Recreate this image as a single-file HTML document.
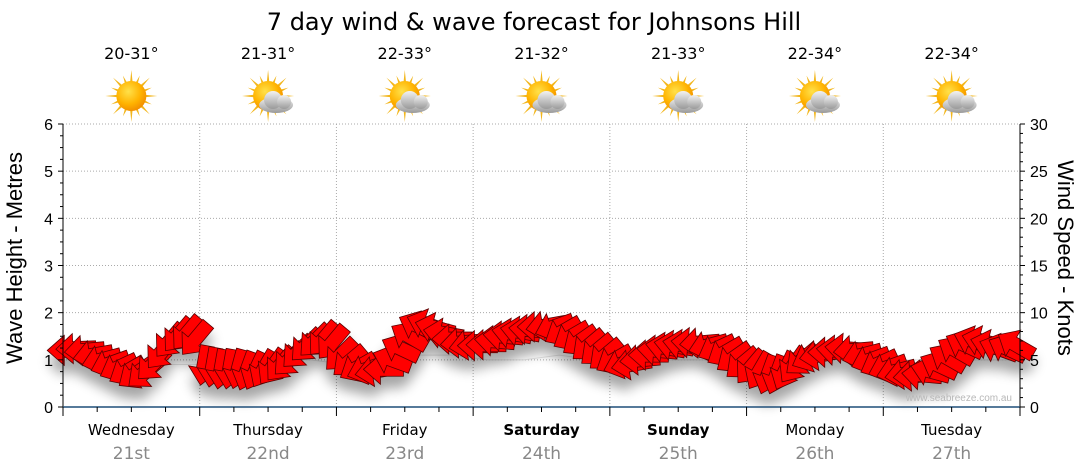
<!DOCTYPE html>
<html><head><meta charset="utf-8"><style>
body{margin:0;background:#fff;}
svg{display:block;}
</style></head><body>
<svg id="chart" width="1080" height="475" viewBox="0 0 1080 475" xmlns="http://www.w3.org/2000/svg">
<defs>
<radialGradient id="sunG" cx="0.4" cy="0.35" r="0.7"><stop offset="0" stop-color="#ffe14a"/><stop offset="0.6" stop-color="#ffb300"/><stop offset="1" stop-color="#f08a00"/></radialGradient>
<linearGradient id="cloudG" x1="0" y1="0" x2="0" y2="1"><stop offset="0" stop-color="#f2f2f2"/><stop offset="1" stop-color="#9a9a9a"/></linearGradient>
<filter id="shadow" x="-20%" y="-50%" width="140%" height="200%"><feGaussianBlur stdDeviation="6"/></filter>
</defs>
<text x="534" y="30" text-anchor="middle" font-family="DejaVu Sans, sans-serif" font-size="24" fill="#000">7 day wind &amp; wave forecast for Johnsons Hill</text>
<g id="grid"></g>
<g id="icons"></g>
<g id="wave"></g>
<g id="arrowShadow" filter="url(#shadow)" opacity="0.35"></g>
<g id="arrows"></g>
<g id="axes"></g>
<text x="0" y="0" transform="translate(22,258) rotate(-90)" text-anchor="middle" font-family="Liberation Sans, sans-serif" font-size="22">Wave Height - Metres</text>
<text x="0" y="0" transform="translate(1058,258) rotate(90)" text-anchor="middle" font-family="Liberation Sans, sans-serif" font-size="22">Wind Speed - Knots</text>
<text x="1012" y="401" text-anchor="end" font-family="Liberation Sans, sans-serif" font-size="10" fill="#b8b8b8">www.seabreeze.com.au</text>
</svg>
<script>
const days = ["Wednesday","Thursday","Friday","Saturday","Sunday","Monday","Tuesday"];
const dates = ["21st","22nd","23rd","24th","25th","26th","27th"];
const boldDays = [false,false,false,true,true,false,false];
const temps = ["20-31°","21-31°","22-33°","21-32°","21-33°","22-34°","22-34°"];
const icons = ["sun","partly","partly","partly","partly","partly","partly"];
const waveTicks = [0,1,2,3,4,5,6];
const windTicks = [0,5,10,15,20,25,30];
const windSpeed = [
6.0,6.2,6.0,5.5,5.0,4.6,4.2,3.8,3.5,3.6,4.5,5.8,7.0,7.6,7.8,7.2,
4.4,4.2,4.0,4.0,4.0,3.8,3.8,4.0,4.2,4.5,5.0,5.8,6.5,7.0,7.2,6.8,
5.5,4.8,4.2,4.0,3.8,4.0,5.0,6.2,7.5,8.6,8.8,8.4,7.8,7.2,6.8,6.6,
6.5,6.6,7.0,7.5,7.8,8.0,8.2,8.5,8.6,8.5,8.0,7.5,7.0,6.5,6.0,5.5,
5.0,4.6,4.5,5.0,5.5,6.0,6.3,6.5,6.6,6.8,6.8,6.5,6.2,5.8,5.2,4.6,
4.2,3.8,3.4,3.4,3.8,4.4,5.0,5.3,5.5,5.8,6.0,6.2,6.0,5.5,5.0,4.6,
4.2,3.8,3.5,3.3,3.4,3.8,4.4,5.2,6.0,6.6,7.0,7.0,6.6,6.2,6.2,6.6];
const windDir = [
180,178,175,170,165,160,155,150,145,140,135,130,130,130,130,130,
100,100,100,100,105,110,115,120,125,130,135,135,135,135,130,130,
135,140,150,160,170,180,200,205,210,205,200,195,190,180,175,170,
180,180,185,185,190,190,185,180,170,160,150,150,145,140,140,140,
150,160,170,175,180,185,190,190,190,185,175,165,155,150,145,140,
130,120,110,110,115,125,140,155,170,180,185,185,175,165,160,155,
160,165,170,175,185,195,205,210,210,205,200,195,195,200,205,210];
const waveHeight = [1.2,1.1,1.0,0.9,0.9,1.0,1.0,1.0,0.9,1.0,1.1,1.1,1.0,1.0,1.1,1.0,1.0,1.0,1.0,1.0,1.0,1.1,1.0,1.0,1.0,1.0,1.0,1.0];

const NS="http://www.w3.org/2000/svg";
const X0=63, X1=1020, Y0=407, Y6=124;
const xDay = d => X0 + d*(X1-X0)/7;
const yWave = m => Y0 - m*(Y0-Y6)/6;
const yWind = k => Y0 - k*(Y0-Y6)/30;
function mk(tag, attrs, parent){const e=document.createElementNS(NS,tag);for(const k in attrs)e.setAttribute(k,attrs[k]);parent.appendChild(e);return e;}
const grid=document.getElementById('grid'), axes=document.getElementById('axes'), iconsG=document.getElementById('icons');

for(let i=1;i<=6;i++){
  const g=mk('line',{x1:X0,x2:X1,y1:yWave(i),y2:yWave(i),stroke:'#aaa','stroke-dasharray':'1,2'},grid);
  
  
}
for(let d=1;d<7;d++){
  const g=mk('line',{x1:xDay(d),x2:xDay(d),y1:Y6,y2:Y0,stroke:'#aaa','stroke-dasharray':'1,2'},grid);
  
  
}
mk('line',{x1:X0,x2:X0,y1:Y6,y2:Y0+8,stroke:'#000'},axes);
mk('line',{x1:X1,x2:X1,y1:Y6,y2:Y0,stroke:'#000'},axes);
mk('line',{x1:X0,x2:X1,y1:Y0,y2:Y0,stroke:'#1f4e79','stroke-width':1.5},axes);
for(let i=0;i<=24;i++){const y=yWave(i/4);mk('line',{x1:X0-(i%4==0?5:3),x2:X0,y1:y,y2:y,stroke:'#000'},axes);}
for(let i=0;i<=30;i++){const y=yWind(i);mk('line',{x1:X1,x2:X1+(i%5==0?5:3),y1:y,y2:y,stroke:'#000'},axes);}
waveTicks.forEach(v=>{
  const t=mk('text',{x:X0-10,y:yWave(v)+6,'text-anchor':'end','font-family':'Liberation Sans, sans-serif','font-size':16},axes);t.textContent=v;
  
  
});
windTicks.forEach(v=>{
  const t=mk('text',{x:X1+10,y:yWind(v)+6,'text-anchor':'start','font-family':'Liberation Sans, sans-serif','font-size':16},axes);t.textContent=v;
  
  
});
for(let i=0;i<=28;i++){const x=X0+i*(X1-X0)/28;mk('line',{x1:x,x2:x,y1:Y0,y2:Y0+(i%4==0?9:5),stroke:'#000'},axes);}
days.forEach((d,i)=>{
  const cx=(xDay(i)+xDay(i+1))/2;
  const t=mk('text',{x:cx,y:435,'text-anchor':'middle','font-family':'DejaVu Sans, sans-serif','font-size':15,'font-weight':boldDays[i]?'bold':'normal'},axes);t.textContent=d;
  
  
  const t2=mk('text',{x:cx,y:459,'text-anchor':'middle','font-family':'DejaVu Sans, sans-serif','font-size':17,fill:'#888'},axes);t2.textContent=dates[i];
  
  
  const t3=mk('text',{x:cx,y:59,'text-anchor':'middle','font-family':'DejaVu Sans, sans-serif','font-size':16},iconsG);t3.textContent=temps[i];
  
  
  const g=mk('g',{transform:`translate(${cx},96)`},iconsG);
  
  
  for(let r=0;r<16;r++){const a=r*Math.PI/8, L=(r%2?22:26);
    mk('polygon',{points:`${Math.cos(a-0.12)*12},${Math.sin(a-0.12)*12} ${Math.cos(a)*L},${Math.sin(a)*L} ${Math.cos(a+0.12)*12},${Math.sin(a+0.12)*12}`,fill:'#f2b61c'},g);}
  mk('circle',{cx:0,cy:0,r:15,fill:'url(#sunG)'},g);
  if(icons[i]==='partly'){
    const c=mk('g',{transform:'translate(8,5)'},g);
    mk('ellipse',{cx:0,cy:4,rx:17,ry:8,fill:'url(#cloudG)'},c);
    mk('circle',{cx:-3,cy:-1,r:9,fill:'url(#cloudG)'},c);
    mk('circle',{cx:8,cy:1,r:7,fill:'url(#cloudG)'},c);
  }
});
const n=waveHeight.length;
let wp=waveHeight.map((v,i)=>`${X0+i*(X1-X0)/(n-1)},${yWave(v)}`).join(' ');
const wl=mk('polyline',{points:wp,fill:'none',stroke:'#e4e4e4','stroke-width':1},document.getElementById('wave'));


const arrowPts="20,0 3,-15 3,-7 -20,-7 -20,7 3,7 3,15";
const N=windSpeed.length, sh=document.getElementById('arrowShadow'), ag=document.getElementById('arrows');
for(let i=0;i<N;i++){
  const x=X0+(i+0.5)*(X1-X0)/N, y=yWind(windSpeed[i]);
  mk('polygon',{points:arrowPts,fill:'#000',transform:`translate(${x},${y+12}) rotate(${windDir[i]})`},sh);
  const p=mk('polygon',{points:arrowPts,fill:'#ff0000',stroke:'#5a0000','stroke-width':0.8,'stroke-linejoin':'miter',transform:`translate(${x},${y}) rotate(${windDir[i]})`},ag);
  
  
}
</script>
</body></html>
